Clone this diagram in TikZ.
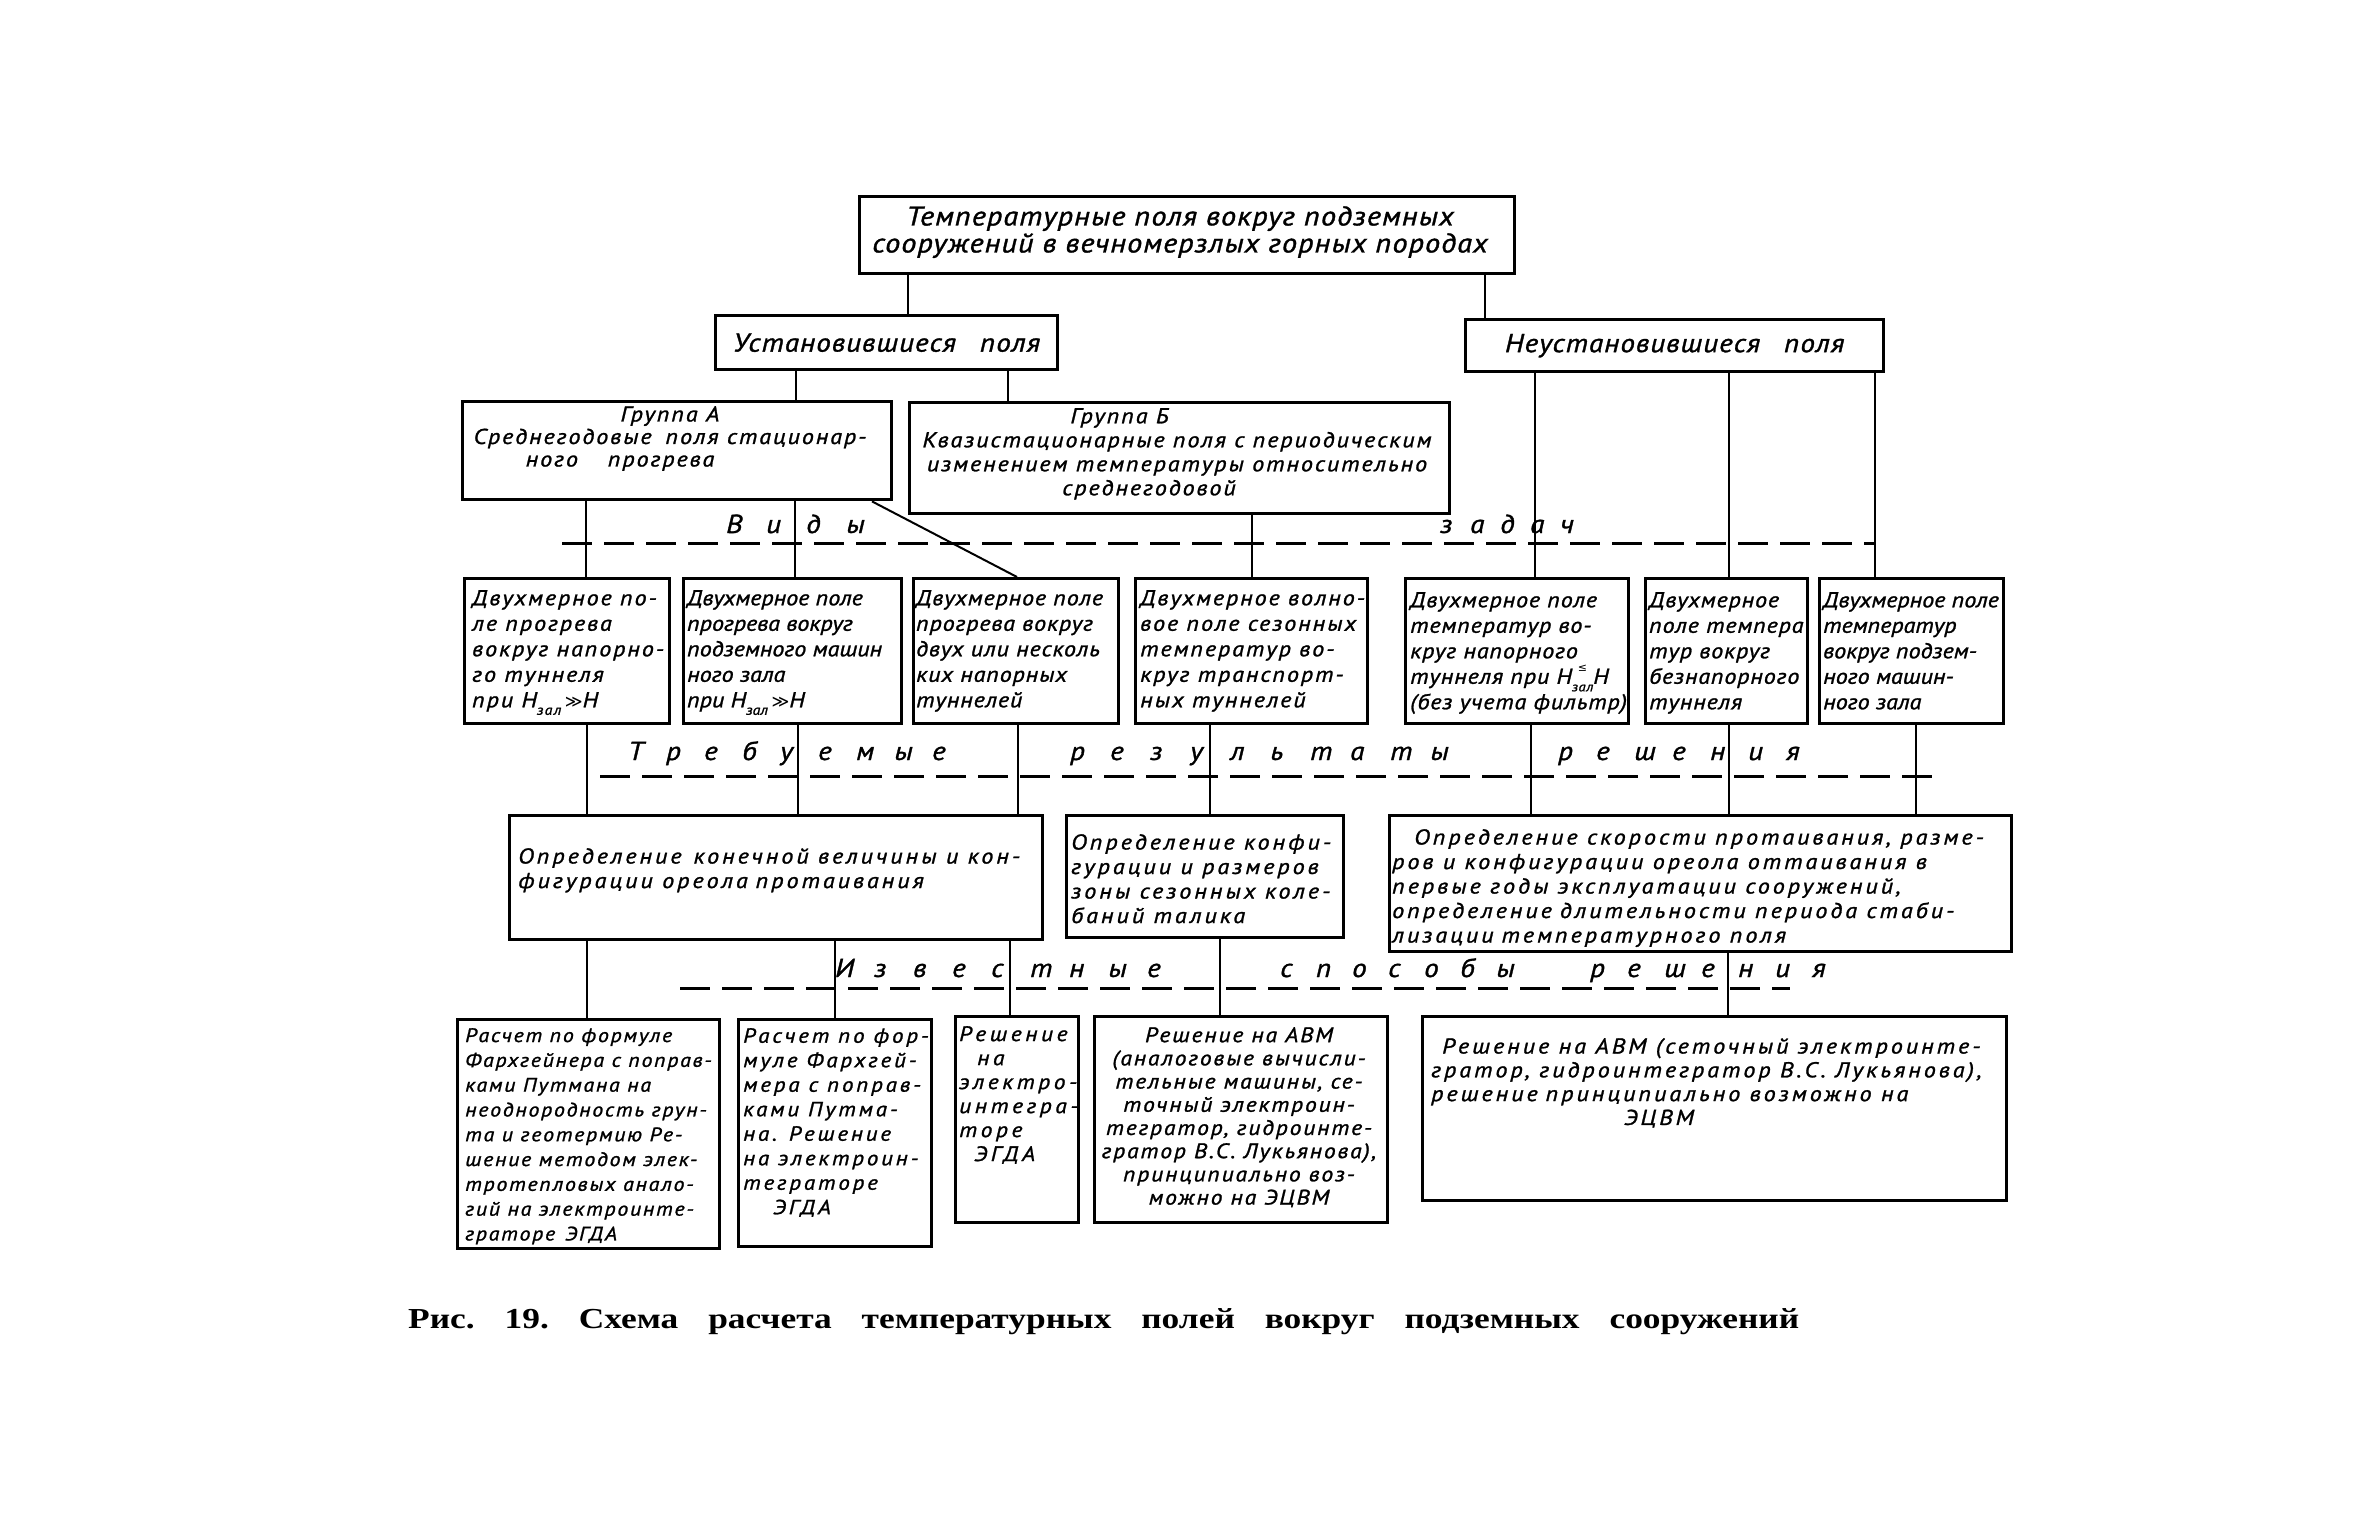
\documentclass[tikz,border=0pt]{standalone}
\usepackage{fontspec}
\newfontfamily\drA[FakeStretch=1.12,FakeBold=1.2]{PT Sans}
\newfontfamily\drB[FakeStretch=1.12,FakeBold=1.2,LetterSpace=4]{PT Sans}
\newfontfamily\drC[FakeStretch=1.12,FakeBold=1.2,LetterSpace=9]{PT Sans}
\newfontfamily\drD[FakeStretch=1.12,FakeBold=1.2,LetterSpace=14]{PT Sans}
\newfontfamily\drE[FakeStretch=1.12,FakeBold=1.2,LetterSpace=17]{PT Sans}
\newfontfamily\dv{DejaVu Sans}
\newfontfamily\capf[FakeStretch=1.22]{Liberation Serif}
\usetikzlibrary{calc}
\newcommand\fsz[2]{\fontsize{#1}{#2}\selectfont}
\makeatletter
\newcommand\spl[2]{\def\spl@w{#1}\spl@go#2\@nil}
\def\spl@go#1{\ifx#1\@nil\else\makebox[\spl@w][l]{#1}\expandafter\spl@go\fi}
\makeatother
\newcommand\Hzal{H\raisebox{-0.35em}{\fsz{14}{14}зал}}
\newcommand\Hle{H\rlap{\hspace{6pt}\raisebox{0.55em}{\fsz{11}{11}\dv ≤}}\raisebox{-0.35em}{\fsz{13}{13}зал}H}
\newcommand\mgt{{\dv\fsz{17}{17}≫}H}
\newcommand\bx[5]{\node[box, minimum width={#4pt-#2pt}, minimum height={#5pt-#3pt}] (#1) at (#2,#3) {};}
\tikzset{
  box/.style={draw, line width=3.4pt, inner sep=0pt, anchor=north west},
  tx/.style={anchor=north west, inner sep=0pt, align=left, font=\drC\itshape\fsz{21.5}{25.5}},
  txc/.style={tx, anchor=north, align=center},
  conn/.style={line width=2pt},
  dline/.style={line width=3pt, dash pattern=on 30pt off 12pt},
  lab/.style={anchor=base west, inner sep=0pt, font=\drB\itshape\fsz{26}{26}},
}
\begin{document}
\begin{tikzpicture}[x=1pt,y=-1pt]
\fill[white] (0,0) rectangle (2362,1536);
\useasboundingbox (0,0) rectangle (2362,1536);

% ---------- row 1
\bx{T}{858}{195}{1513}{272}
\node[txc, font=\drB\itshape\fsz{27}{27}] (Tt) at (1180,206) {Температурные поля вокруг подземных\\сооружений в вечномерзлых горных породах};
\bx{U}{714}{314}{1056}{368}
\node[tx, anchor=center, font=\drB\itshape\fsz{26}{26}] (Ut) at (U.center) {Установившиеся\hspace{24pt}поля};
\bx{N}{1464}{318}{1882}{370}
\node[tx, anchor=center, font=\drB\itshape\fsz{26}{26}] (Nt) at (N.center) {Неустановившиеся\hspace{24pt}поля};

% ---------- row 2
\bx{GA}{461}{400}{890}{498}
\node[txc, font=\drC\itshape\fsz{21.5}{22.5}] (GAt) at (670,406) {Группа А\\Среднегодовые\hspace{14pt}поля стационар-\\ного\hspace{30pt}прогрева\hspace*{100pt}};
\bx{GB}{908}{401}{1448}{512}
\node[txc, font=\drC\itshape\fsz{21.5}{24}] (GBt) at (1177,408) {Группа Б\hspace*{115pt}\\Квазистационарные поля с периодическим\\изменением температуры относительно\\среднегодовой\hspace*{56pt}};

% ---------- row 3
\bx{b1}{463}{577}{668}{722}
\bx{b2}{682}{577}{900}{722}
\bx{b3}{912}{577}{1117}{722}
\bx{b4}{1134}{577}{1366}{722}
\bx{b5}{1404}{577}{1627}{722}
\bx{b6}{1644}{577}{1806}{722}
\bx{b7}{1818}{577}{2002}{722}
\node[tx] (b1t) at (472,590) {Двухмерное по-\\ле прогрева\\вокруг напорно-\\го туннеля\\при \Hzal\,\mgt};
\node[tx, font=\drA\itshape\fsz{21.5}{25.5}] (b2t) at (687,590) {Двухмерное поле\\прогрева вокруг\\подземного машин\\ного зала\\при \Hzal\,\mgt};
\node[tx, font=\drB\itshape\fsz{21.5}{25.5}] (b3t) at (916,590) {Двухмерное поле\\прогрева вокруг\\двух или несколь\\ких напорных\\туннелей};
\node[tx] (b4t) at (1140,590) {Двухмерное волно-\\вое поле сезонных\\температур во-\\круг транспорт-\\ных туннелей};
\node[tx, font=\drB\itshape\fsz{21.5}{25.5}] (b5t) at (1410,592) {Двухмерное поле\\температур во-\\круг напорного\\туннеля при \Hle\\(без учета фильтр)};
\node[tx, font=\drB\itshape\fsz{21.5}{25.5}] (b6t) at (1649,592) {Двухмерное\\поле темпера\\тур вокруг\\безнапорного\\туннеля};
\node[tx, font=\drA\itshape\fsz{21.5}{25.5}] (b7t) at (1823,592) {Двухмерное поле\\температур\\вокруг подзем-\\ного машин-\\ного зала};

% ---------- row 4
\bx{A}{508}{814}{1041}{938}
\bx{B}{1065}{814}{1342}{936}
\bx{C}{1388}{814}{2010}{950}
\node[tx, font=\drD\itshape\fsz{21.5}{24.5}] (At) at (518,848) {Определение\hspace{12pt}конечной величины и кон-\\фигурации ореола\hspace{8pt}протаивания};
\node[tx, font=\drD\itshape\fsz{21.5}{24.5}] (Bt) at (1071,834) {Определение конфи-\\гурации и размеров\\зоны сезонных коле-\\баний талика};
\node[tx, font=\drD\itshape\fsz{21.5}{24.5}] (Ct) at (1392,829) {\hspace*{22pt}Определение скорости протаивания, разме-\\ров и конфигурации ореола оттаивания в\\первые годы эксплуатации сооружений,\\определение\hspace{8pt}длительности периода стаби-\\лизации\hspace{8pt}температурного поля};

% ---------- row 5
\bx{e1}{456}{1018}{718}{1247}
\bx{e2}{737}{1018}{930}{1245}
\bx{e3}{954}{1015}{1077}{1221}
\bx{e4}{1093}{1015}{1386}{1221}
\bx{e5}{1421}{1015}{2005}{1199}
\node[tx, font=\drC\itshape\fsz{19.5}{24.8}] (e1t) at (465,1028) {Расчет по формуле\\Фархгейнера с поправ-\\ками Путмана на\\неоднородность грун-\\та и геотермию Ре-\\шение методом элек-\\тротепловых анало-\\гий на электроинте-\\граторе\hspace{10pt}ЭГДА};
\node[tx, font=\drD\itshape\fsz{20.5}{24.5}] (e2t) at (743,1028) {Расчет по фор-\\муле Фархгей-\\мера с поправ-\\ками Путма-\\на. Решение\\на электроин-\\тегратоpe\\\hspace*{30pt}ЭГДА};
\node[tx, font=\drE\itshape\fsz{21}{24}] (e3t) at (959,1026) {Решение\\\hspace*{18pt}на\\электро-\\интегра-\\торе\\\hspace*{15pt}ЭГДА};
\node[txc, font=\drC\itshape\fsz{21}{23.2}] (e4t) at (1239,1027) {Решение на АВМ\\(аналоговые вычисли-\\тельные машины, се-\\точный электроин-\\тегратор, гидроинте-\\гратор В.С. Лукьянова),\\принципиально воз-\\можно на ЭЦВМ};
\node[tx, font=\drD\itshape\fsz{21.5}{23.8}] (e5t) at (1431,1038) {\hspace*{11pt}Решение на АВМ (сеточный электроинте-\\гратор, гидроинтегратор В.С. Лукьянова),\\решение\hspace{8pt}принципиально возможно на\\\hspace*{193pt}ЭЦВМ};

% ---------- connectors
\draw[conn] (T.south -| 908,0) -- (U.north -| 908,0);
\draw[conn] (T.south -| 1485,0) -- (N.north -| 1485,0);
\draw[conn] (U.south -| 796,0) -- (GA.north -| 796,0);
\draw[conn] (U.south -| 1008,0) -- (GB.north -| 1008,0);
\draw[conn] (N.south -| 1535,0) -- (b5.north -| 1535,0);
\draw[conn] (N.south -| 1729,0) -- (b6.north -| 1729,0);
\draw[conn] (N.south -| 1875,0) -- (b7.north -| 1875,0);
\draw[conn] (GA.south -| 586,0) -- (b1.north -| 586,0);
\draw[conn] (GA.south -| 795,0) -- (b2.north -| 795,0);
\draw[conn] (GA.south -| 872,0) -- (b3.north -| 1017,0);
\draw[conn] (GB.south -| 1252,0) -- (b4.north -| 1252,0);
\draw[conn] (b1.south -| 587,0) -- (A.north -| 587,0);
\draw[conn] (b2.south -| 798,0) -- (A.north -| 798,0);
\draw[conn] (b3.south -| 1018,0) -- (A.north -| 1018,0);
\draw[conn] (b4.south -| 1210,0) -- (B.north -| 1210,0);
\draw[conn] (b5.south -| 1531,0) -- (C.north -| 1531,0);
\draw[conn] (b6.south -| 1729,0) -- (C.north -| 1729,0);
\draw[conn] (b7.south -| 1916,0) -- (C.north -| 1916,0);
\draw[conn] (A.south -| 587,0) -- (e1.north -| 587,0);
\draw[conn] (A.south -| 835,0) -- (e2.north -| 835,0);
\draw[conn] (A.south -| 1010,0) -- (e3.north -| 1010,0);
\draw[conn] (B.south -| 1220,0) -- (e4.north -| 1220,0);
\draw[conn] (C.south -| 1728,0) -- (e5.north -| 1728,0);

% ---------- dashed divider lines with labels
\coordinate (d1a) at (562,543); \coordinate (d1b) at (1875,543);
\coordinate (d2a) at (600,776); \coordinate (d2b) at (1938,776);
\coordinate (d3a) at (680,988); \coordinate (d3b) at (1790,988);
\draw[dline] (d1a) -- (d1b);
\draw[dline] (d2a) -- (d2b);
\draw[dline] (d3a) -- (d3b);
\node[lab] (l1) at (726,533) {\spl{40pt}{Виды}};
\node[lab] (l2) at (1440,533) {\spl{30pt}{задач}};
\node[lab] (l3) at (628,760) {\spl{38pt}{Требуемые}};
\node[lab] (l4) at (1070,760) {\spl{40pt}{результаты}};
\node[lab] (l5) at (1558,760) {\spl{38pt}{решения}};
\node[lab] (l6) at (835,977) {\spl{39pt}{Известные}};
\node[lab] (l7) at (1280,977) {\spl{36pt}{способы}};
\node[lab] (l8) at (1590,977) {\spl{37pt}{решения}};

% ---------- caption
\node[anchor=base west, inner sep=0pt, font=\capf\bfseries\fsz{29}{29}] (cap) at (408,1328) {\frenchspacing\makebox[1391pt][s]{Рис. 19. Схема расчета температурных полей вокруг подземных сооружений}};
\end{tikzpicture}
\end{document}
